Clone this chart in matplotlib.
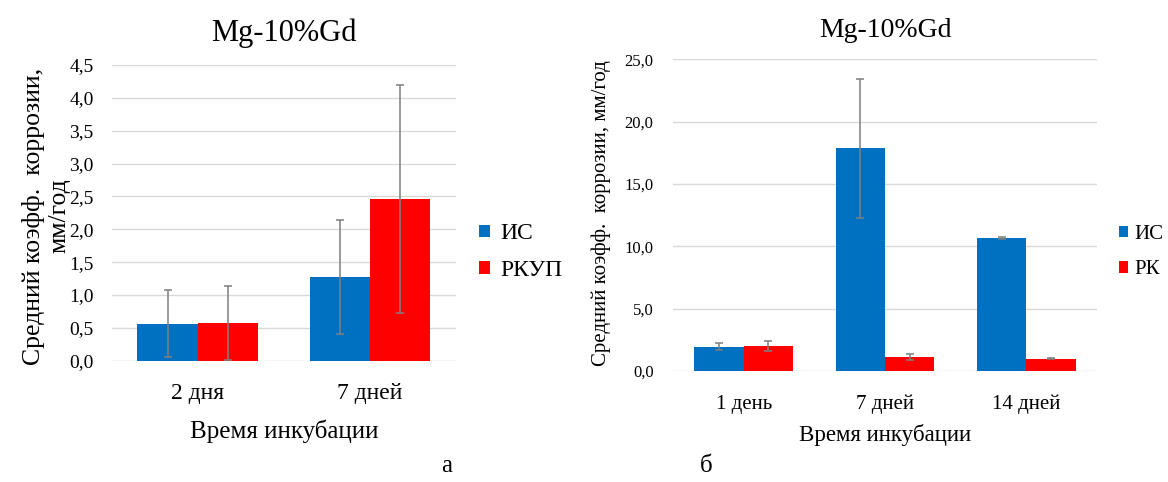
import matplotlib
matplotlib.use("Agg")
import matplotlib.pyplot as plt
import numpy as np

plt.rcParams['font.family'] = ['Liberation Serif', 'DejaVu Serif']

# Left chart data
cats_a = ["2 дня", "7 дней"]
is_a = [0.56, 1.27]
is_a_err = [0.51, 0.87]
rkup_a = [0.57, 2.46]
rkup_a_err = [0.56, 1.73]
yticks_a = [0.0, 0.5, 1.0, 1.5, 2.0, 2.5, 3.0, 3.5, 4.0, 4.5]

# Right chart data
cats_b = ["1 день", "7 дней", "14 дней"]
is_b = [1.95, 17.87, 10.66]
is_b_err = [0.27, 5.58, 0.05]
rk_b = [2.03, 1.12, 0.99]
rk_b_err = [0.40, 0.22, 0.04]
yticks_b = [0.0, 5.0, 10.0, 15.0, 20.0, 25.0]

BLUE = "#0070C0"
RED = "#FF0000"
ERR = "#7F7F7F"
GRID = "#D9D9D9"

fig = plt.figure(figsize=(11.68, 4.82), dpi=100)


def draw(ax, cats, s1, e1, s2, e2, yticks, ymax, tick_fs, cat_fs, lab1, lab2):
    x = np.arange(len(cats))
    w = 0.35
    ax.bar(x - w / 2, s1, w, color=BLUE, label=lab1, zorder=2)
    ax.bar(x + w / 2, s2, w, color=RED, label=lab2, zorder=2)
    ax.errorbar(x - w / 2, s1, yerr=e1, fmt='none', ecolor=ERR, elinewidth=1.1,
                capsize=3, capthick=1.1, zorder=3)
    ax.errorbar(x + w / 2, s2, yerr=e2, fmt='none', ecolor=ERR, elinewidth=1.1,
                capsize=3, capthick=1.1, zorder=3)
    ax.set_xlim(-0.5, len(cats) - 0.5)
    ax.set_ylim(0, ymax)
    ax.set_yticks(yticks)
    ax.set_yticklabels([f"{v:.1f}".replace('.', ',') for v in yticks], fontsize=tick_fs)
    ax.set_xticks(x)
    ax.set_xticklabels(cats, fontsize=cat_fs)
    ax.grid(axis='y', color=GRID, linewidth=1.0, zorder=0)
    ax.set_axisbelow(True)
    for s in ax.spines.values():
        s.set_visible(False)
    ax.tick_params(length=0)


# Left chart
ax1 = fig.add_axes([0.0956, 0.2517, 0.2948, 0.6134])
draw(ax1, cats_a, is_a, is_a_err, rkup_a, rkup_a_err, yticks_a, 4.5, 14, 17, "ИС", "РКУП")
ax1.tick_params(axis='y', pad=13)
ax1.tick_params(axis='x', pad=16)
ax1.set_xlabel("Время инкубации", fontsize=18, labelpad=11)
ax1.set_title("Mg-10%Gd", fontsize=22, pad=17)
fig.text(46 / 1168, 1 - 216 / 482, "Средний коэфф.  коррозии,\nмм/год", rotation=90,
         ha='center', va='center', multialignment='center', fontsize=18.5, linespacing=1.2)
h1, l1 = ax1.get_legend_handles_labels()
fig.legend(h1, l1, loc='center left', bbox_to_anchor=(479 / 1168, 1 - 252 / 482),
           frameon=False, fontsize=17, handlelength=0.45, handleheight=0.45,
           handletextpad=0.45, labelspacing=0.65, borderaxespad=0, borderpad=0)

# Right chart
ax2 = fig.add_axes([0.5762, 0.2303, 0.3630, 0.6467])
draw(ax2, cats_b, is_b, is_b_err, rk_b, rk_b_err, yticks_b, 25.0, 12, 15, "ИС", "РК")
ax2.tick_params(axis='y', pad=14)
ax2.tick_params(axis='x', pad=17)
ax2.set_xlabel("Время инкубации", fontsize=16.5, labelpad=7)
ax2.set_title("Mg-10%Gd", fontsize=20, pad=16)
fig.text(601 / 1168, 1 - 213 / 482, "Средний коэфф.  коррозии, мм/год", rotation=90,
         ha='center', va='center', fontsize=15)
h2, l2 = ax2.get_legend_handles_labels()
fig.legend(h2, l2, loc='center left', bbox_to_anchor=(1119 / 1168, 1 - 252 / 482),
           frameon=False, fontsize=15, handlelength=0.45, handleheight=0.45,
           handletextpad=0.3, labelspacing=0.8, borderaxespad=0, borderpad=0)

fig.text(447 / 1168, 1 - 466 / 482, "а", ha='center', va='center', fontsize=18)
fig.text(706 / 1168, 1 - 466 / 482, "б", ha='center', va='center', fontsize=18)

fig.savefig("out.png", dpi=100)
